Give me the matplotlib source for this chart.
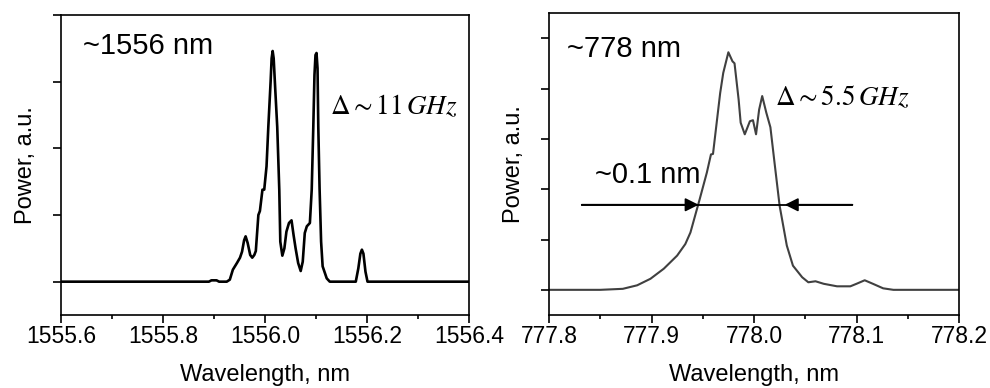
import numpy as np
import matplotlib
matplotlib.use("Agg")
from matplotlib import pyplot as plt
from matplotlib.ticker import MultipleLocator

plt.rcParams['font.family'] = ['Liberation Sans', 'DejaVu Sans']
plt.rcParams['mathtext.fontset'] = 'stix'

# ~1556 nm spectrum (fundamental)
wl_ir = [1555.6, 1555.89, 1555.895, 1555.905, 1555.91, 1555.925, 1555.931, 1555.937,
         1555.945, 1555.951, 1555.955, 1555.959, 1555.962, 1555.966, 1555.971,
         1555.975, 1555.979, 1555.982, 1555.987, 1555.990, 1555.995, 1555.9985,
         1556.003, 1556.0065, 1556.011, 1556.013, 1556.015, 1556.017, 1556.020,
         1556.024, 1556.028, 1556.030, 1556.034, 1556.038, 1556.042, 1556.047,
         1556.052, 1556.056, 1556.060, 1556.065, 1556.070, 1556.074, 1556.078,
         1556.082, 1556.088, 1556.0916, 1556.0947, 1556.097, 1556.099, 1556.101,
         1556.103, 1556.1045, 1556.107, 1556.110, 1556.113, 1556.121, 1556.127,
         1556.178, 1556.183, 1556.187, 1556.190, 1556.193, 1556.197, 1556.201,
         1556.4]
p_ir = [0.0, 0.0, 0.02, 0.02, 0.0, 0.0, 0.03, 0.18,
        0.28, 0.36, 0.45, 0.62, 0.68, 0.58, 0.40,
        0.36, 0.40, 0.46, 1.0, 1.06, 1.38, 1.38,
        1.73, 2.32, 3.0, 3.35, 3.46, 3.35, 2.9,
        2.32, 1.38, 0.60, 0.39, 0.50, 0.75, 0.88,
        0.92, 0.70, 0.50, 0.28, 0.16, 0.30, 0.73,
        0.83, 0.88, 1.38, 2.32, 3.1, 3.4, 3.43,
        3.2, 2.32, 1.4, 0.6, 0.23, 0.05, 0.0,
        0.0, 0.2, 0.42, 0.48, 0.42, 0.15, 0.0,
        0.0]

# ~778 nm spectrum (second harmonic)
wl_sh = [777.8, 777.85, 777.872, 777.886, 777.899, 777.912, 777.92, 777.925,
         777.933, 777.938, 777.947, 777.954, 777.958, 777.96, 777.967, 777.97,
         777.975, 777.979, 777.981, 777.985, 777.987, 777.991, 777.996, 777.999,
         778.002, 778.005, 778.008, 778.012, 778.016, 778.02, 778.025, 778.032,
         778.038, 778.047, 778.053, 778.06, 778.068, 778.081, 778.094, 778.1,
         778.108, 778.116, 778.126, 778.136, 778.2]
p_sh = [0.0, 0.0, 0.02, 0.09, 0.22, 0.42, 0.58, 0.68,
        0.91, 1.14, 1.80, 2.33, 2.69, 2.70, 3.91, 4.31,
        4.72, 4.54, 4.50, 3.78, 3.32, 3.09, 3.35, 3.37,
        3.09, 3.58, 3.85, 3.52, 3.23, 2.53, 1.67, 0.88,
        0.48, 0.25, 0.15, 0.17, 0.12, 0.07, 0.07, 0.12,
        0.19, 0.12, 0.03, 0.0, 0.0]

# width marker: line extent and arrow tips
width_level = 1.69
width_line = [777.832, 778.096]
width_tips = [777.946, 778.030]

fig = plt.figure(figsize=(9.9, 3.88), dpi=100)
ax1 = fig.add_axes([61/990, 73/388, 408/990, 300/388])
ax2 = fig.add_axes([549/990, 73/388, 410/990, 302/388])

for ax in (ax1, ax2):
    for s in ax.spines.values():
        s.set_linewidth(1.2)
    ax.tick_params(which='major', direction='out', length=5.5, width=1.2,
                   labelsize=16.5, pad=2)
    ax.tick_params(which='minor', direction='out', length=3, width=1.2)
    ax.tick_params(axis='y', labelleft=False)
    ax.set_xlabel('Wavelength, nm', fontsize=17, labelpad=11)
    ax.set_ylabel('Power, a.u.', fontsize=17, labelpad=12)

ax1.plot(wl_ir, p_ir, color='black', lw=1.9)
ax1.set_xlim(1555.6, 1556.4)
ax1.set_ylim(-0.5, 4)
ax1.xaxis.set_major_locator(MultipleLocator(0.2))
ax1.xaxis.set_minor_locator(MultipleLocator(0.1))
ax1.set_yticks([0, 1, 2, 3, 4])
ax1.xaxis.set_major_formatter(plt.FormatStrFormatter('%.1f'))
ax1.text(0.055, 0.895, '~1556 nm', transform=ax1.transAxes, fontsize=21,
         va='center', ha='left')
ax1.text(0.66, 0.695, r'$\Delta \sim 11\,GHz$', transform=ax1.transAxes,
         fontsize=19.5, va='center', ha='left')

ax2.plot(wl_sh, p_sh, color='#404040', lw=1.5)
ax2.set_xlim(777.8, 778.2)
ax2.set_ylim(-0.5, 5.5)
ax2.xaxis.set_major_locator(MultipleLocator(0.1))
ax2.xaxis.set_minor_locator(MultipleLocator(0.05))
ax2.set_yticks([0, 1, 2, 3, 4, 5])
ax2.xaxis.set_major_formatter(plt.FormatStrFormatter('%.1f'))
ax2.plot(width_line, [width_level, width_level], color='black', lw=1.3)
ax2.annotate('', xy=(width_tips[0], width_level), xytext=(width_line[0], width_level),
             arrowprops=dict(arrowstyle='-|>', color='black', lw=1.3,
                             mutation_scale=20, shrinkA=0, shrinkB=0))
ax2.annotate('', xy=(width_tips[1], width_level), xytext=(width_line[1], width_level),
             arrowprops=dict(arrowstyle='-|>', color='black', lw=1.3,
                             mutation_scale=20, shrinkA=0, shrinkB=0))
ax2.text(0.045, 0.88, '~778 nm', transform=ax2.transAxes, fontsize=21,
         va='center', ha='left')
ax2.text(0.112, 0.465, '~0.1 nm', transform=ax2.transAxes, fontsize=21,
         va='center', ha='left')
ax2.text(0.552, 0.718, r'$\Delta \sim 5.5\,GHz$', transform=ax2.transAxes,
         fontsize=19.5, va='center', ha='left')

fig.savefig('out.png', dpi=100)
